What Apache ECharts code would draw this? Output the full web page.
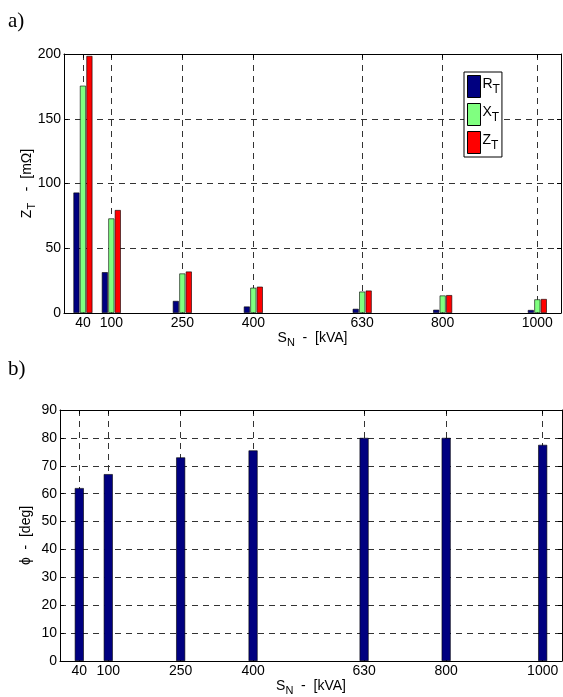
<!DOCTYPE html>
<html>
<head>
<meta charset="utf-8">
<script src="https://cdn.jsdelivr.net/npm/echarts@6/dist/echarts.min.js"></script>
<style>
  html, body { margin: 0; padding: 0; background: #fff; }
  #chart { width: 563px; height: 697px; }
</style>
</head>
<body>
<div id="chart"></div>
<script>
// rated power of the transformers
var snTicks = [40, 100, 250, 400, 630, 800, 1000];
// impedance components [mOhm]
var rT = [93, 31.5, 9.3, 5, 3.2, 2.5, 2.3];
var xT = [175.5, 73, 30.5, 19.5, 16.5, 13.5, 10.5];
var zT = [198.5, 79.5, 32, 20.3, 17.3, 13.8, 10.8];
// angle [deg]
var phi = [62, 67, 73, 75.5, 80, 80, 77.5];

function pairs(vals) {
  return snTicks.map(function (s, i) { return [s, vals[i]]; });
}

var font = 'Liberation Sans, Arial, sans-serif';
var sub = {
  n: { fontFamily: font, fontSize: 14, color: '#000', verticalAlign: 'top', lineHeight: 15 },
  s: { fontFamily: font, fontSize: 11, color: '#000', verticalAlign: 'bottom', padding: [6, 0, 0, 0] }
};
var legSub = {
  n: { fontFamily: font, fontSize: 14, color: '#000', verticalAlign: 'top', lineHeight: 15 },
  s: { fontFamily: font, fontSize: 12, color: '#000', verticalAlign: 'bottom', padding: [7, 0, 0, 0] }
};

function plainNum(v) { return String(v); }

function xAxes(gridIndex, max) {
  return [{
    type: 'value', gridIndex: gridIndex, min: 0, max: max, position: 'bottom',
    axisLine: { show: true, onZero: false, lineStyle: { color: '#000', width: 1 } },
    axisTick: { show: true, inside: true, length: 4, customValues: snTicks, lineStyle: { color: '#000' } },
    axisLabel: { customValues: snTicks, formatter: plainNum, color: '#000', fontFamily: font, fontSize: 14, margin: 3 },
    splitLine: { show: true, lineStyle: { color: '#333', type: [6, 5], width: 1 } },
    name: '{n|S}{s|N}{n|  -  [kVA]}', nameLocation: 'middle', nameGap: 18,
    nameMoveOverlap: false,
    nameTextStyle: { rich: sub }
  }, {
    type: 'value', gridIndex: gridIndex, min: 0, max: max, position: 'top',
    axisLine: { show: true, onZero: false, lineStyle: { color: '#000', width: 1 } },
    axisTick: { show: true, inside: true, length: 4, customValues: snTicks, lineStyle: { color: '#000' } },
    axisLabel: { show: false }, splitLine: { show: false }
  }];
}

function yAxes(gridIndex, max, interval, nameStr, gap) {
  return [{
    type: 'value', gridIndex: gridIndex, min: 0, max: max, interval: interval, position: 'left',
    axisLine: { show: true, onZero: false, lineStyle: { color: '#000', width: 1 } },
    axisTick: { show: true, inside: true, length: 4, lineStyle: { color: '#000' } },
    axisLabel: { color: '#000', fontFamily: font, fontSize: 14, margin: 3 },
    splitLine: { show: true, lineStyle: { color: '#333', type: [6, 5], width: 1 } },
    name: nameStr, nameLocation: 'middle', nameGap: gap, nameRotate: 90,
    nameMoveOverlap: false,
    nameTextStyle: { rich: sub }
  }, {
    type: 'value', gridIndex: gridIndex, min: 0, max: max, interval: interval, position: 'right',
    axisLine: { show: true, onZero: false, lineStyle: { color: '#000', width: 1 } },
    axisTick: { show: true, inside: true, length: 4, lineStyle: { color: '#000' } },
    axisLabel: { show: false }, splitLine: { show: false }
  }];
}

var legendNames = { 'R_T': 'R', 'X_T': 'X', 'Z_T': 'Z' };

var dom = document.getElementById('chart');
var myChart = echarts.init(dom, null, { renderer: 'canvas' });

var option = {
  animation: false,
  backgroundColor: '#fff',
  grid: [
    { left: 64, top: 54, width: 497, height: 259 },
    { left: 60, top: 410, width: 502, height: 252 }
  ],
  xAxis: xAxes(0, 1050).concat(xAxes(1, 1040)),
  yAxis: yAxes(0, 200, 50, '{n|Z}{s|T}{n|   -  [mΩ]}', 27)
    .concat(yAxes(1, 90, 10, '{n|ϕ  -  [deg]}', 26)),
  legend: {
    data: ['R_T', 'X_T', 'Z_T'],
    orient: 'vertical',
    left: 464, top: 72,
    icon: 'rect',
    itemWidth: 13, itemHeight: 22, itemGap: 5,
    padding: [3, 2, 3, 3],
    borderColor: '#000', borderWidth: 1, borderRadius: 0,
    backgroundColor: '#fff',
    formatter: function (name) {
      return '{n|' + legendNames[name] + '}{s|T}';
    },
    textStyle: { rich: legSub, padding: [0, 0, 0, -3] },
    itemStyle: { borderColor: '#000', borderWidth: 1 }
  },
  graphic: [
    { type: 'text', left: 8, top: 11, style: { text: 'a)', font: '21px "Liberation Serif", "Times New Roman", serif', fill: '#000' } },
    { type: 'text', left: 8, top: 359, style: { text: 'b)', font: '21px "Liberation Serif", "Times New Roman", serif', fill: '#000' } }
  ],
  series: [
    {
      name: 'R_T', type: 'bar', xAxisIndex: 0, yAxisIndex: 0,
      data: pairs(rT), barWidth: 6, barGap: '8%',
      itemStyle: { color: '#000080', borderColor: '#000', borderWidth: 0.6 }
    },
    {
      name: 'X_T', type: 'bar', xAxisIndex: 0, yAxisIndex: 0,
      data: pairs(xT), barWidth: 6, barGap: '8%',
      itemStyle: { color: '#80ff80', borderColor: '#000', borderWidth: 0.6 }
    },
    {
      name: 'Z_T', type: 'bar', xAxisIndex: 0, yAxisIndex: 0,
      data: pairs(zT), barWidth: 6, barGap: '8%',
      itemStyle: { color: '#ff0000', borderColor: '#000', borderWidth: 0.6 }
    },
    {
      name: 'phi', type: 'bar', xAxisIndex: 2, yAxisIndex: 2,
      data: pairs(phi), barWidth: 9,
      itemStyle: { color: '#000080', borderColor: '#000', borderWidth: 0.6 }
    }
  ]
};

myChart.setOption(option);
</script>
</body>
</html>
